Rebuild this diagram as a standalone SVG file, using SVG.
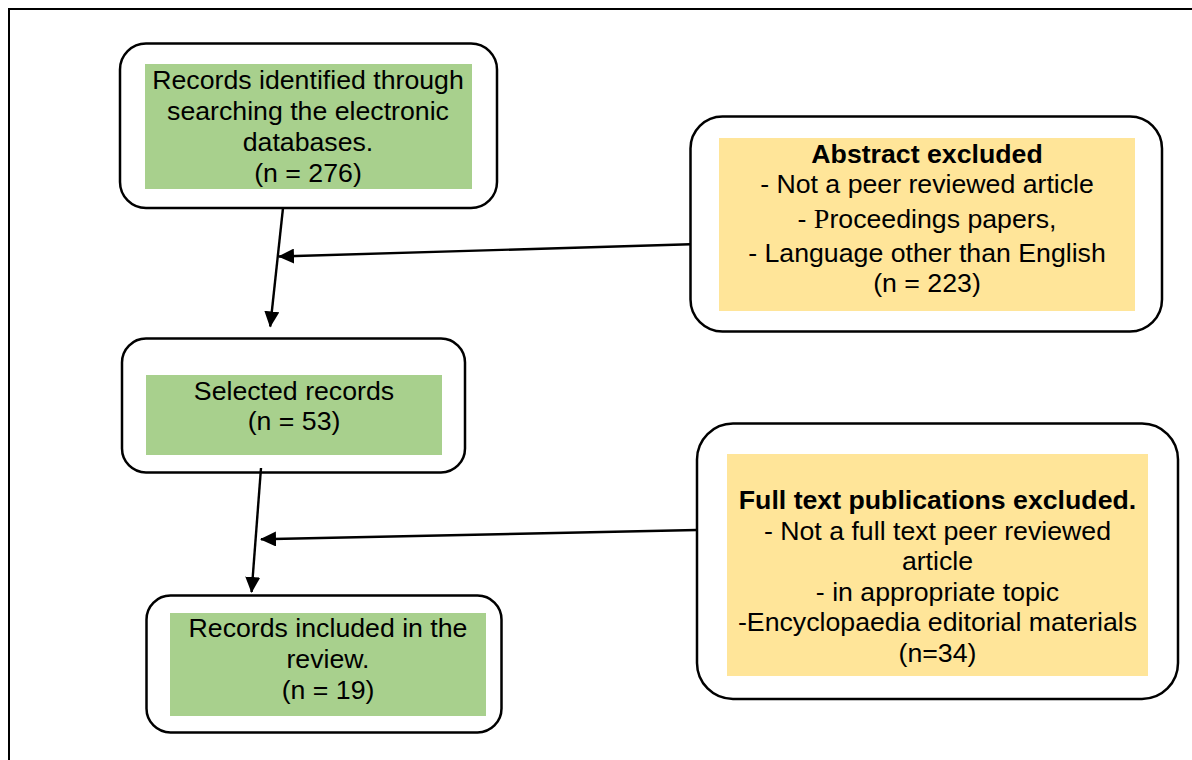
<svg xmlns="http://www.w3.org/2000/svg" width="1192" height="760" viewBox="0 0 1192 760">
<style>
.box{fill:#fff;stroke:#000;stroke-width:2.5}
.g{fill:#A8D08D}
.y{fill:#FFE599}
text{font-family:"Liberation Sans",Arial,sans-serif;font-size:26.7px;fill:#000;text-anchor:middle}
.b{font-weight:bold}
.c{stroke:#000;stroke-width:2.4;fill:none;marker-end:url(#ah)}
</style>
<defs>
<marker id="ah" viewBox="0 0 16 15" refX="15" refY="7.5" markerWidth="16" markerHeight="15" markerUnits="userSpaceOnUse" orient="auto">
<path d="M0,0 L16,7.5 L0,15 z" fill="#000"/>
</marker>
</defs>
<rect width="1192" height="760" fill="#fff"/>
<path d="M9,760 V9 H1192" fill="none" stroke="#000" stroke-width="2"/>
<g id="n1">
<rect class="box" x="120" y="43.5" width="377" height="164.5" rx="26"/>
<rect class="g" x="145" y="64" width="327" height="125"/>
<text x="308" y="89">Records identified through</text>
<text x="308" y="120">searching the electronic</text>
<text x="308" y="151">databases.</text>
<text x="308" y="182">(n = 276)</text>
</g>
<g id="n2">
<rect class="box" x="690.5" y="116.5" width="471.5" height="215" rx="32"/>
<rect class="y" x="719" y="138" width="416" height="173"/>
<text class="b" x="927" y="163">Abstract excluded</text>
<text x="927" y="193">- Not a peer reviewed article</text>
<text x="927" y="228">- <tspan font-family="Liberation Serif,serif" font-size="28">P</tspan>roceedings papers,</text>
<text x="927" y="261.5">- Language other than English</text>
<text x="927" y="292">(n = 223)</text>
</g>
<g id="n3">
<rect class="box" x="122" y="338.5" width="343" height="134" rx="24"/>
<rect class="g" x="146" y="375" width="296" height="80"/>
<text x="294" y="400">Selected records</text>
<text x="294" y="429.5">(n = 53)</text>
</g>
<g id="n4">
<rect class="box" x="146.5" y="595.5" width="355" height="137" rx="24"/>
<rect class="g" x="170" y="613" width="316" height="103"/>
<text x="328" y="637">Records included in the</text>
<text x="328" y="668">review.</text>
<text x="328" y="699">(n = 19)</text>
</g>
<g id="n5">
<rect class="box" x="697" y="423.5" width="481" height="275.5" rx="36"/>
<rect class="y" x="727" y="454" width="421" height="222"/>
<text class="b" x="937.5" y="508.5">Full text publications excluded.</text>
<text x="937.5" y="539.5">- Not a full text peer reviewed</text>
<text x="937.5" y="570">article</text>
<text x="937.5" y="601">- in appropriate topic</text>
<text x="937.5" y="631">-Encyclopaedia editorial materials</text>
<text x="937.5" y="662">(n=34)</text>
</g>
<g id="connectors">
<line class="c" x1="283" y1="208" x2="270.2" y2="326.5"/>
<line class="c" x1="690.5" y1="244.3" x2="279" y2="256.5"/>
<line class="c" x1="261" y1="468" x2="251.6" y2="592"/>
<line class="c" x1="697" y1="530" x2="261" y2="539.3"/>
</g>
</svg>
